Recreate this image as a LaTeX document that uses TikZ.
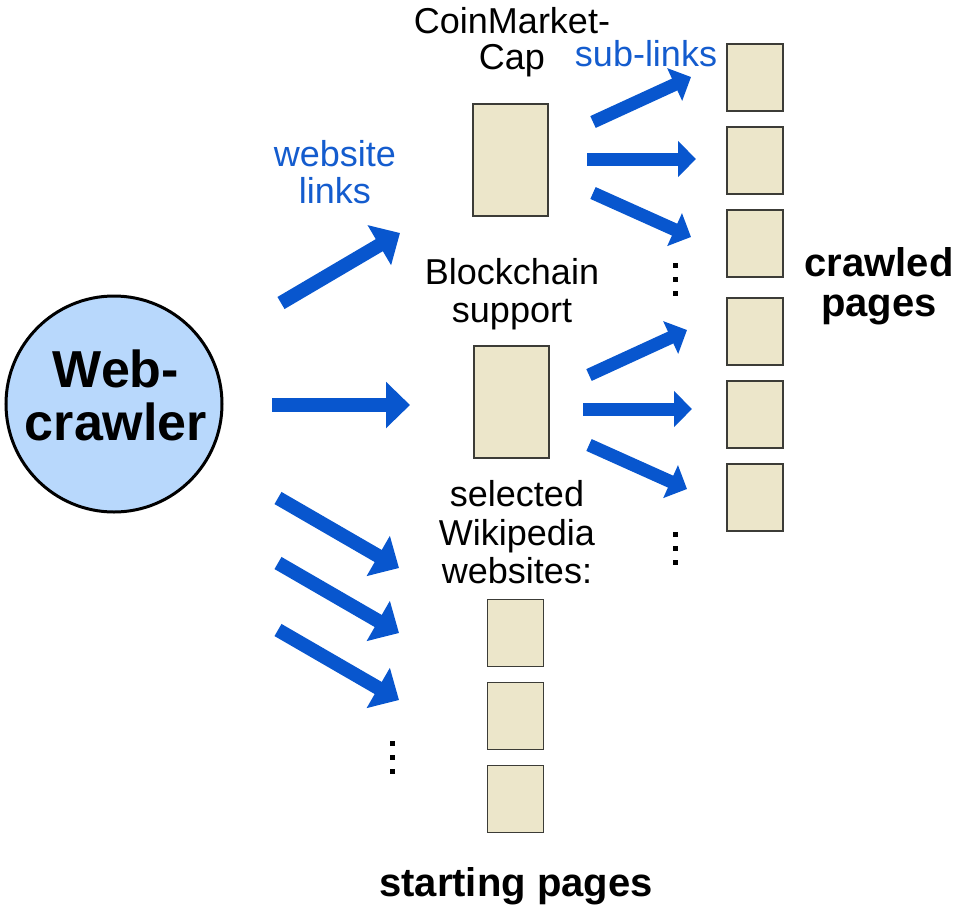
\documentclass[tikz,border=0pt]{standalone}
\usepackage{fontspec}
\setmainfont{Liberation Sans}
\usetikzlibrary{arrows.meta}
\definecolor{arrowblue}{RGB}{8,86,206}
\definecolor{textblue}{RGB}{20,92,206}
\definecolor{pagefill}{RGB}{236,230,202}
\definecolor{pageedge}{RGB}{60,60,55}
\definecolor{circfill}{RGB}{184,216,252}
\begin{document}
\begin{tikzpicture}[x=1pt,y=-1pt,
  pagebox/.style={draw=pageedge, fill=pagefill, line width=1.6pt, inner sep=0pt},
  bigpage/.style={pagebox, minimum width=75pt, minimum height=112pt},
  smallpage/.style={pagebox, minimum width=56pt, minimum height=67pt},
  bigarrow/.style={draw=arrowblue, line width=14pt, -{Triangle[width=45pt,length=24pt]}},
  smallarrow/.style={draw=arrowblue, line width=13pt, -{Triangle[width=35pt,length=18pt]}},
  lbl/.style={inner sep=0pt, anchor=base, font=\fontsize{36}{38}\selectfont},
  bluelbl/.style={lbl, text=textblue},
  boldlbl/.style={inner sep=0pt, anchor=base, font=\fontsize{40}{43}\selectfont\bfseries},
  dotmark/.style={fill=black, inner sep=0pt, minimum size=5pt}
]
\useasboundingbox (0,0) rectangle (965,910);

% Web-crawler circle
\node[circle, draw=black, line width=3pt, fill=circfill, minimum size=216pt, inner sep=0pt] (wc) at (114,404) {};
\node[inner sep=0pt, anchor=base, font=\fontsize{52}{54}\selectfont\bfseries] (wc1) at (116,387) {Web-};
\node[inner sep=0pt, anchor=base, font=\fontsize{52}{54}\selectfont\bfseries] (wc2) at (116,440) {crawler};

% starting pages
\node[bigpage] (cmc) at (510.5,160) {};
\node[bigpage] (bcs) at (511.5,402) {};
\node[smallpage] (w1) at (515.5,633) {};
\node[smallpage] (w2) at (515.5,716) {};
\node[smallpage] (w3) at (515.5,799) {};

% crawled pages
\node[smallpage] (c1) at (755,77.5) {};
\node[smallpage] (c2) at (755,160.5) {};
\node[smallpage] (c3) at (755,243.5) {};
\node[smallpage] (c4) at (755,331.5) {};
\node[smallpage] (c5) at (755,414.5) {};
\node[smallpage] (c6) at (755,497.5) {};

% labels
\node[lbl] (t1a) at (512,33) {CoinMarket-};
\node[lbl] (t1b) at (512,69) {Cap};
\node[lbl] (t2a) at (512,284) {Blockchain};
\node[lbl] (t2b) at (512,322) {support};
\node[lbl] (t3a) at (517,506) {selected};
\node[lbl] (t3b) at (517,545) {Wikipedia};
\node[lbl] (t3c) at (517,583) {websites:};
\node[bluelbl] (wl1) at (335,166) {website};
\node[bluelbl] (wl2) at (335,203) {links};
\node[bluelbl] (sl) at (646,66) {sub-links};
\node[boldlbl] (cp1) at (879,276) {crawled};
\node[boldlbl] (cp2) at (879,316) {pages};
\node[boldlbl] (sp) at (516,896) {starting pages};

% arrow end points
\coordinate (a1s) at (281,303); \coordinate (a1e) at (400,233);
\coordinate (a2s) at (272,405); \coordinate (a2e) at (410,405);
\coordinate (a3s) at (278,498); \coordinate (a3e) at (399,568);
\coordinate (a4s) at (278,563); \coordinate (a4e) at (399,633);
\coordinate (a5s) at (278,630); \coordinate (a5e) at (399,700);
\coordinate (s1s) at (593,122); \coordinate (s1e) at (691,77);
\coordinate (s2s) at (587,159); \coordinate (s2e) at (696,159);
\coordinate (s3s) at (593,193); \coordinate (s3e) at (691,237);
\coordinate (u1s) at (589,375); \coordinate (u1e) at (687,330);
\coordinate (u2s) at (583,409); \coordinate (u2e) at (692,409);
\coordinate (u3s) at (589,445); \coordinate (u3e) at (687,489);

\draw[bigarrow] (a1s) -- (a1e);
\draw[bigarrow] (a2s) -- (a2e);
\draw[bigarrow] (a3s) -- (a3e);
\draw[bigarrow] (a4s) -- (a4e);
\draw[bigarrow] (a5s) -- (a5e);
\draw[smallarrow] (s1s) -- (s1e);
\draw[smallarrow] (s2s) -- (s2e);
\draw[smallarrow] (s3s) -- (s3e);
\draw[smallarrow] (u1s) -- (u1e);
\draw[smallarrow] (u2s) -- (u2e);
\draw[smallarrow] (u3s) -- (u3e);

% vertical ellipses
\node[dotmark] (d1a) at (675,265) {};
\node[dotmark] (d1b) at (675,279) {};
\node[dotmark] (d1c) at (675,293) {};
\node[dotmark] (d2a) at (675,534) {};
\node[dotmark] (d2b) at (675,548) {};
\node[dotmark] (d2c) at (675,562) {};
\node[dotmark] (d3a) at (392,743) {};
\node[dotmark] (d3b) at (392,757) {};
\node[dotmark] (d3c) at (392,771) {};
\end{tikzpicture}
\end{document}
